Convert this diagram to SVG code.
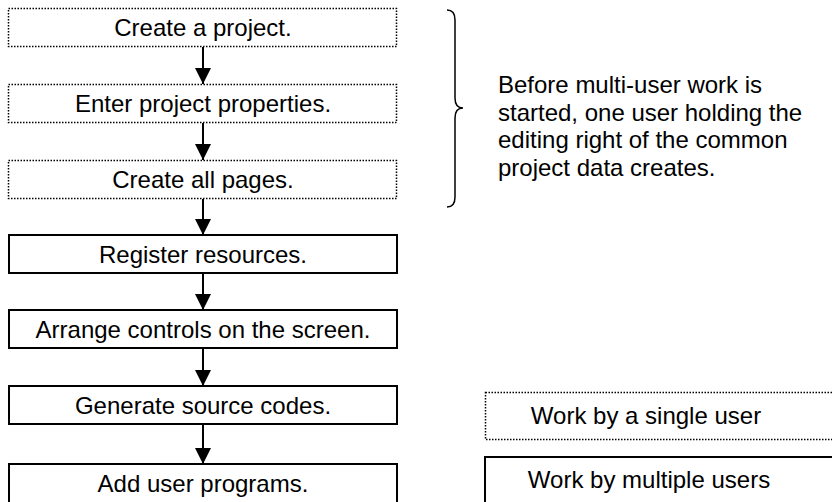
<svg xmlns="http://www.w3.org/2000/svg" width="832" height="502" viewBox="0 0 832 502">
<style>
  text { font-family: "Liberation Sans", Arial, sans-serif; font-size: 24px; fill: #000; }
  .lbl { text-anchor: middle; }
  .dot { fill: #fff; stroke: #000; stroke-width: 1.5; stroke-dasharray: 1.5 1.5; }
  .sol { fill: #fff; stroke: #000; stroke-width: 2; }
  .conn line { stroke: #000; stroke-width: 2; }
  .note { font-size: 24px; }
</style>
<defs>
  <marker id="ah" markerWidth="16" markerHeight="16" viewBox="0 0 16 16" refX="16" refY="8" orient="auto" markerUnits="userSpaceOnUse">
    <path d="M0,0 L16,8 L0,16 Z" fill="#000"/>
  </marker>
</defs>
<rect width="832" height="502" fill="#fff"/>

<g id="n1"><rect class="dot" x="8.5" y="8.5" width="388" height="38"/><text class="lbl" x="203" y="36">Create a project.</text></g>
<g id="n2"><rect class="dot" x="8.5" y="84.5" width="388" height="38"/><text class="lbl" x="203" y="112">Enter project properties.</text></g>
<g id="n3"><rect class="dot" x="8.5" y="160.5" width="388" height="38"/><text class="lbl" x="203" y="188">Create all pages.</text></g>
<g id="n4"><rect class="sol" x="9" y="235" width="388" height="38"/><text class="lbl" x="203" y="262.5">Register resources.</text></g>
<g id="n5"><rect class="sol" x="9" y="310" width="388" height="38"/><text class="lbl" x="203" y="337.5">Arrange controls on the screen.</text></g>
<g id="n6"><rect class="sol" x="9" y="386" width="388" height="38"/><text class="lbl" x="203" y="413.5">Generate source codes.</text></g>
<g id="n7"><rect class="sol" x="9" y="464" width="388" height="40"/><text class="lbl" x="203" y="491.5">Add user programs.</text></g>

<g id="connectors" class="conn">
  <line x1="203" y1="47" x2="203" y2="84" marker-end="url(#ah)"/>
  <line x1="203" y1="123" x2="203" y2="160" marker-end="url(#ah)"/>
  <line x1="203" y1="199" x2="203" y2="235" marker-end="url(#ah)"/>
  <line x1="203" y1="273" x2="203" y2="310" marker-end="url(#ah)"/>
  <line x1="203" y1="348" x2="203" y2="386" marker-end="url(#ah)"/>
  <line x1="203" y1="424" x2="203" y2="464" marker-end="url(#ah)"/>
</g>

<g id="brace">
  <path d="M447,10 Q455,10 455,20 L455,98 Q455,108 463,108 Q455,108 455,118 L455,197 Q455,207 447,207" fill="none" stroke="#000" stroke-width="1.5"/>
</g>
<g id="note">
  <text class="note" x="498" y="93">Before multi-user work is</text>
  <text class="note" x="498" y="120.7">started, one user holding the</text>
  <text class="note" x="498" y="148.4">editing right of the common</text>
  <text class="note" x="498" y="176">project data creates.</text>
</g>

<g id="legend-single"><rect class="dot" x="485.5" y="392.5" width="360" height="47"/><text class="lbl" x="646" y="424">Work by a single user</text></g>
<g id="legend-multi"><rect class="sol" x="485" y="457" width="360" height="60"/><text class="lbl" x="649" y="488">Work by multiple users</text></g>
</svg>
